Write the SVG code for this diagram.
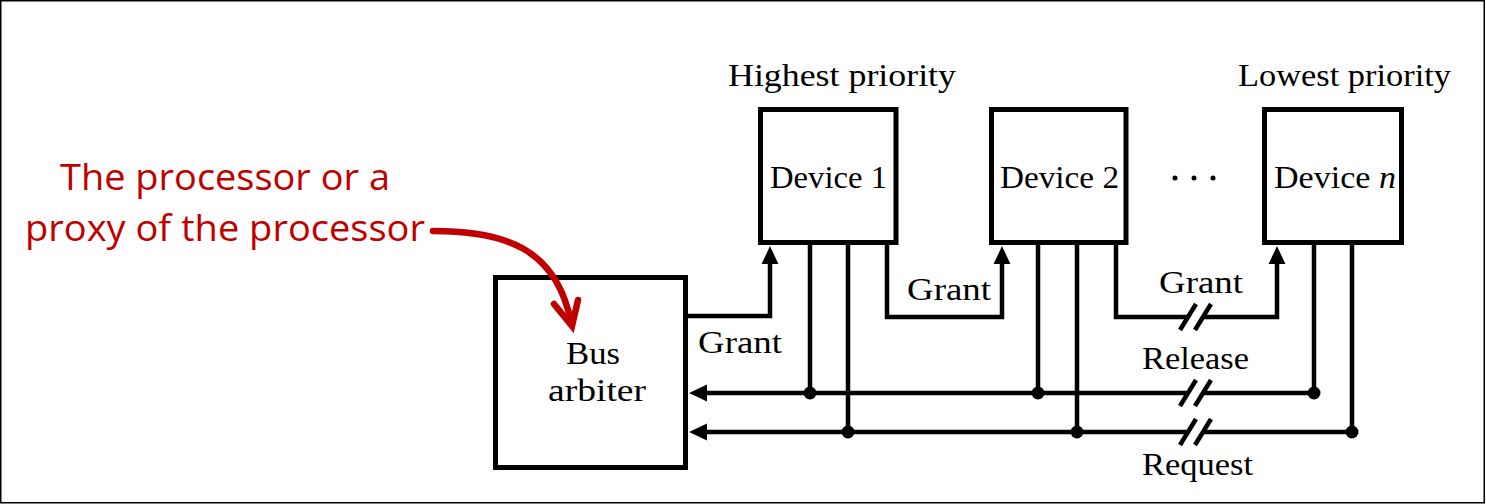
<svg xmlns="http://www.w3.org/2000/svg" width="1486" height="504" viewBox="0 0 1486 504">
<style>
.box{fill:#fff;stroke:#000;stroke-width:5}
.ln{fill:none;stroke:#000;stroke-width:4.5}
.arr{fill:none;stroke:#000;stroke-width:4.5;marker-end:url(#ah)}
.sl{stroke:#000;stroke-width:4.5}
.dot{fill:#000}
.lbl{font-family:"Liberation Serif","Times New Roman",serif;font-size:31px;fill:#000}
.red{font-family:"Open Sans","Noto Sans",sans-serif;font-size:36px;fill:#C00000}
</style>
<defs>
<marker id="ah" markerUnits="userSpaceOnUse" markerWidth="18" markerHeight="18" refX="1" refY="8" orient="auto" viewBox="0 0 17 16">
<path d="M0,0 L17,8 L0,16 z" fill="#000"/>
</marker>
</defs>
<rect x="0.75" y="0.75" width="1483.5" height="502" fill="#fff" stroke="#000" stroke-width="1.5"/>

<g id="bus-arbiter">
<rect class="box" x="495.5" y="277.5" width="190" height="190"/>
<text class="lbl" x="566" y="364" textLength="54" lengthAdjust="spacingAndGlyphs">Bus</text>
<text class="lbl" x="548" y="401" textLength="98" lengthAdjust="spacingAndGlyphs">arbiter</text>
</g>

<g id="annotation">
<text class="red" x="60" y="190" textLength="330" lengthAdjust="spacingAndGlyphs">The processor or a</text>
<text class="red" x="25" y="241" textLength="400" lengthAdjust="spacingAndGlyphs">proxy of the processor</text>
<path d="M433,231 C505,231 556,248 571,322" fill="none" stroke="#C00000" stroke-width="6.5" stroke-linecap="round"/>
<path d="M554,304 L572,326 L578,300" fill="none" stroke="#C00000" stroke-width="6.5" stroke-linecap="round" stroke-linejoin="miter"/>
</g>

<g id="device-1">
<rect class="box" x="760.5" y="109.5" width="135.5" height="133"/>
<text class="lbl" x="770" y="188" textLength="117" lengthAdjust="spacingAndGlyphs">Device 1</text>
</g>
<g id="device-2">
<rect class="box" x="991.5" y="109.5" width="134.5" height="133"/>
<text class="lbl" x="1000" y="188" textLength="119" lengthAdjust="spacingAndGlyphs">Device 2</text>
</g>
<g id="device-n">
<rect class="box" x="1264.5" y="109.5" width="137" height="133"/>
<text class="lbl" x="1274" y="188" textLength="122" lengthAdjust="spacingAndGlyphs">Device <tspan font-style="italic">n</tspan></text>
</g>

<g id="labels">
<text class="lbl" x="728" y="86" textLength="228" lengthAdjust="spacingAndGlyphs">Highest priority</text>
<text class="lbl" x="1238" y="86" textLength="213" lengthAdjust="spacingAndGlyphs">Lowest priority</text>
<circle class="dot" cx="1175" cy="178" r="2.5"/>
<circle class="dot" cx="1194" cy="178" r="2.5"/>
<circle class="dot" cx="1213" cy="178" r="2.5"/>
<text class="lbl" x="698" y="353" textLength="84" lengthAdjust="spacingAndGlyphs">Grant</text>
<text class="lbl" x="907" y="300" textLength="84" lengthAdjust="spacingAndGlyphs">Grant</text>
<text class="lbl" x="1159" y="293" textLength="84" lengthAdjust="spacingAndGlyphs">Grant</text>
<text class="lbl" x="1142" y="369" textLength="107" lengthAdjust="spacingAndGlyphs">Release</text>
<text class="lbl" x="1142" y="475" textLength="111" lengthAdjust="spacingAndGlyphs">Request</text>
</g>

<g id="connectors">
<path class="arr" d="M688,316 H770 V263"/>
<path class="arr" d="M887,243 V317 H1002 V263"/>
<path class="ln" d="M1116,243 V317 H1188"/>
<path class="arr" d="M1203,317 H1277 V263"/>
<line class="sl" x1="1180" y1="330" x2="1196" y2="304"/>
<line class="sl" x1="1195" y1="330" x2="1211" y2="304"/>
<path class="arr" d="M1188,393 H706"/>
<path class="ln" d="M1203,393 H1314 V243"/>
<path class="ln" d="M810,243 V393 M1038,243 V393"/>
<line class="sl" x1="1180" y1="406" x2="1196" y2="380"/>
<line class="sl" x1="1195" y1="406" x2="1211" y2="380"/>
<circle class="dot" cx="810" cy="393" r="6.5"/>
<circle class="dot" cx="1038" cy="393" r="6.5"/>
<circle class="dot" cx="1314" cy="393" r="6.5"/>
<path class="arr" d="M1188,432 H706"/>
<path class="ln" d="M1203,432 H1352 V243"/>
<path class="ln" d="M848,243 V432 M1077,243 V432"/>
<line class="sl" x1="1180" y1="445" x2="1196" y2="419"/>
<line class="sl" x1="1195" y1="445" x2="1211" y2="419"/>
<circle class="dot" cx="848" cy="432" r="6.5"/>
<circle class="dot" cx="1077" cy="432" r="6.5"/>
<circle class="dot" cx="1352" cy="432" r="6.5"/>
</g>
</svg>
